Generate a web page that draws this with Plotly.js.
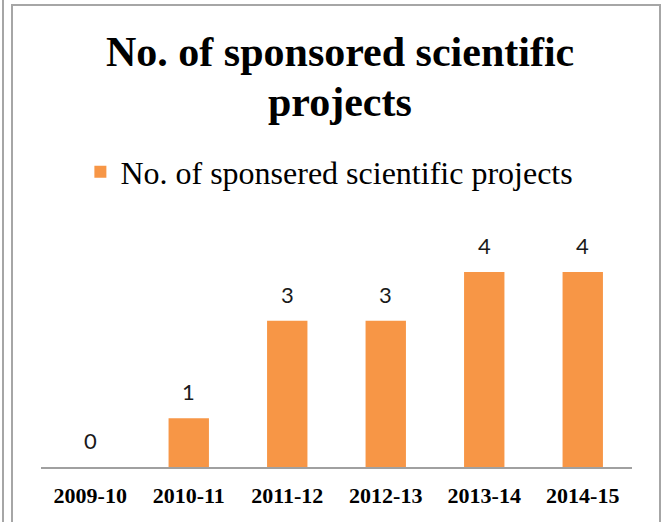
<!DOCTYPE html>
<html>
<head>
<meta charset="utf-8">
<script src="https://cdn.plot.ly/plotly-3.0.1.min.js"></script>
<style>
  html, body { margin: 0; padding: 0; background: #fff; }
  #wrap { position: relative; width: 664px; height: 522px; overflow: hidden; }
  #chart { position: absolute; left: 0; top: 0; width: 664px; height: 522px; }
  .frame { position: absolute; border-color: #a6a6a6; border-style: solid; pointer-events: none; }
</style>
</head>
<body>
<div id="wrap">
  <div id="chart"></div>
  <div class="frame" style="left:11px; top:4px; width:646px; height:530px; border-width:2px 2px 0 2px;"></div>
  <div class="frame" style="left:2px; top:0px; width:0px; height:522px; border-width:0 0 0 2px;"></div>
</div>
<script>
const titleLines = ["No. of sponsored scientific", "projects"];
const seriesName = "No. of sponsered scientific projects";
const years = ["2009-10", "2010-11", "2011-12", "2012-13", "2013-14", "2014-15"];
const projects = [0, 1, 3, 3, 4, 4];

const serif = '"Liberation Serif", "Times New Roman", serif';
const sans = 'Lato, "Liberation Sans", sans-serif';

const plotTop = 180, plotBottom = 467, perUnit = 48.75;
const plotH = plotBottom - plotTop;

const trace = {
  type: 'bar',
  x: years,
  y: projects,
  name: seriesName,
  marker: { color: '#F79646' },
  hoverinfo: 'x+y',
  showlegend: true
};

const labelAnnotations = years.map((yr, i) => ({
  x: yr, y: projects[i], xref: 'x', yref: 'y',
  text: String(projects[i]), showarrow: false,
  yanchor: 'bottom', yshift: 11,
  font: { family: sans, size: 22, color: '#1a1a1a' }
}));

const titleCenters = [52, 102];
const titleAnnotations = titleLines.map((t, i) => ({
  x: 336 / 664, xref: 'paper', xanchor: 'center',
  y: (plotBottom - titleCenters[i]) / plotH, yref: 'paper', yanchor: 'middle',
  text: '<b>' + t + '</b>', showarrow: false,
  font: { family: serif, size: 42, color: '#000' }
}));

const layout = {
  width: 664, height: 522,
  margin: { l: 41, r: 32, t: plotTop, b: 522 - plotBottom, autoexpand: false },
  paper_bgcolor: 'rgba(0,0,0,0)',
  plot_bgcolor: 'rgba(0,0,0,0)',
  bargap: 0.59,
  showlegend: true,
  legend: {
    orientation: 'h',
    x: 324 / 664, xanchor: 'center',
    y: 1 - 172 / 522, yanchor: 'middle', yref: 'container',
    font: { family: serif, size: 32, color: '#000' },
    itemwidth: 30
  },
  xaxis: {
    type: 'category',
    showline: true, linecolor: '#a0a0a0', linewidth: 2,
    ticks: '', showgrid: false, zeroline: false,
    tickfont: { family: serif, size: 22, color: '#000', weight: 'bold' },
    ticklabelstandoff: 8
  },
  yaxis: {
    range: [0, plotH / perUnit],
    visible: false, showgrid: false, zeroline: false
  },
  annotations: titleAnnotations.concat(labelAnnotations)
};

Plotly.newPlot('chart', [trace], layout, { displayModeBar: false, staticPlot: true });
</script>
</body>
</html>
